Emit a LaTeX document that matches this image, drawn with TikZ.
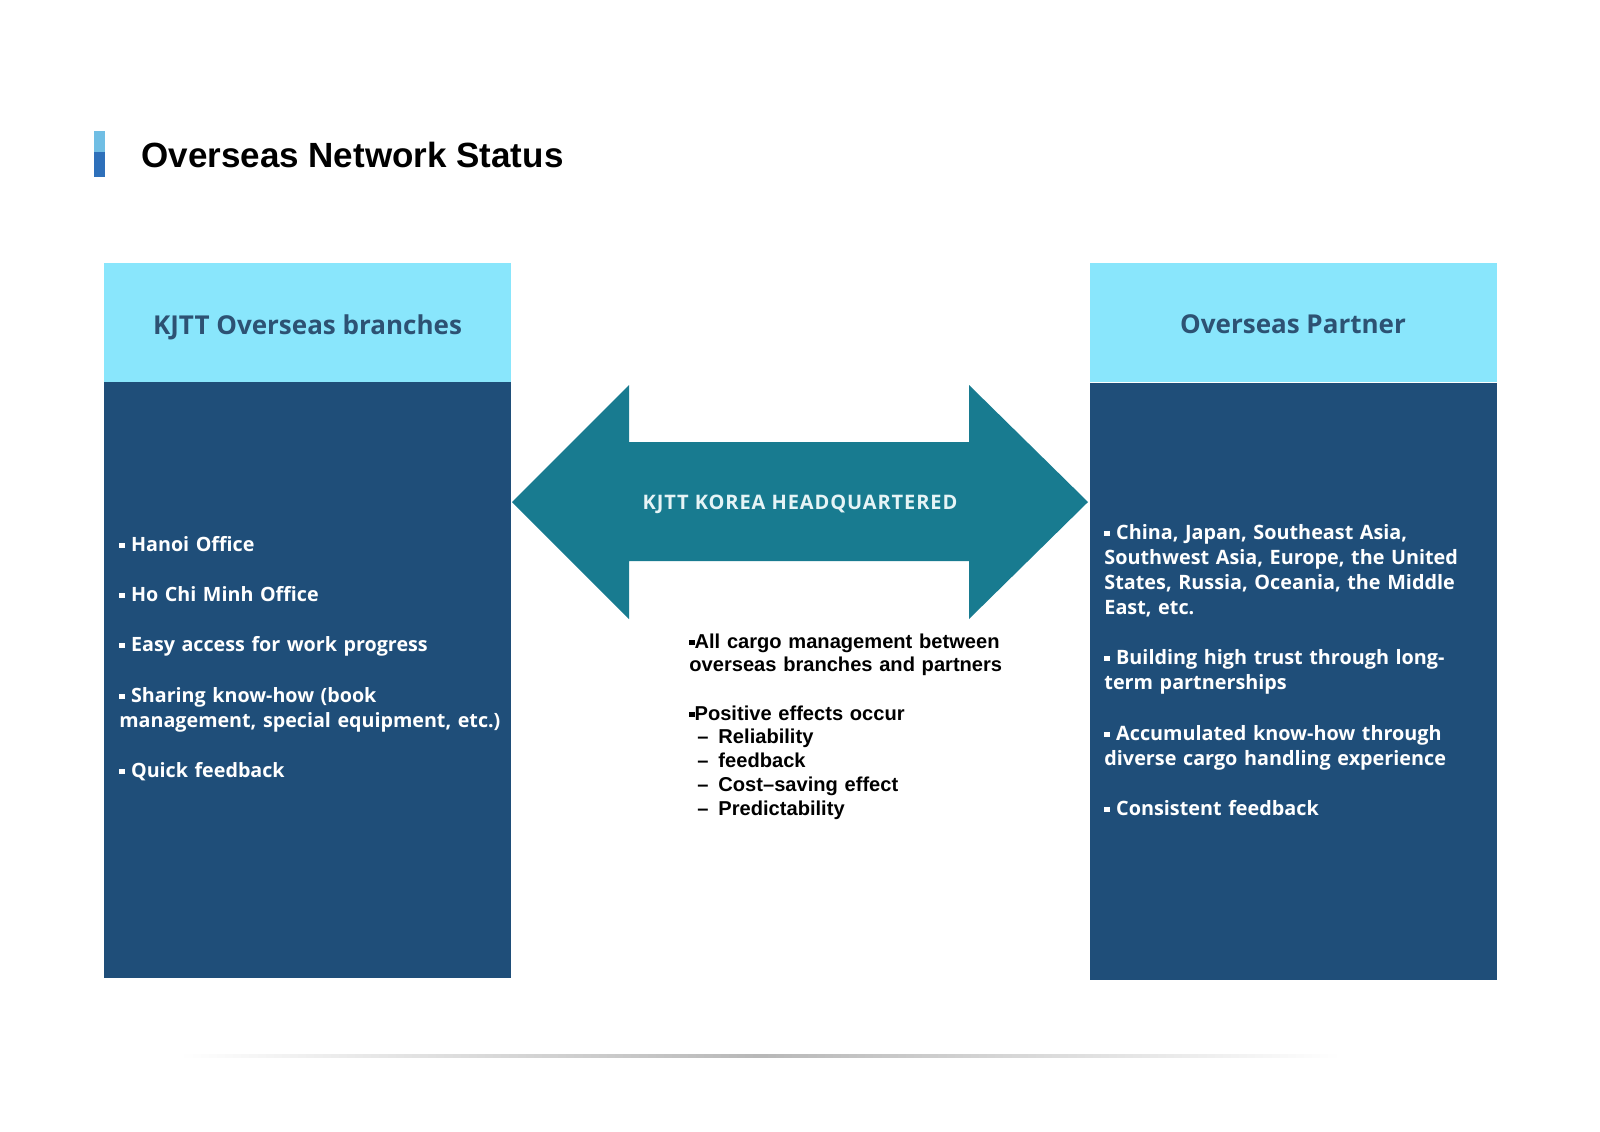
\documentclass[tikz,border=0pt]{standalone}
\usepackage{fontspec}
\setmainfont{Open Sans}
\newfontfamily\titlefont{Liberation Sans}
\newfontfamily\boxfont{Open Sans}
\newfontfamily\arrowfont[LetterSpace=4.5]{Open Sans}
\newfontfamily\centerfont{Liberation Sans}
\definecolor{bodyblue}{RGB}{31,78,121}
\definecolor{hdrcyan}{RGB}{137,230,252}
\definecolor{hdrtext}{RGB}{45,82,115}
\definecolor{arrowc}{RGB}{24,123,144}
\definecolor{arrowtext}{RGB}{230,244,246}
\definecolor{barlight}{RGB}{112,190,228}
\definecolor{bardark}{RGB}{46,112,186}
\newcommand{\sqb}{\raisebox{0.16em}{\rule{0.26em}{0.26em}}}
\newcommand{\dashitem}[1]{\hspace*{0.4em}–\hspace{0.49em}#1}
\tikzset{
  hdrbox/.style={rectangle, fill=hdrcyan, minimum width=203.5pt, minimum height=59.5pt, inner sep=0pt},
  hdrlabel/.style={inner sep=0pt, text=hdrtext, text height=0.72em, text depth=0pt,
    font=\boxfont\bfseries\fontsize{13pt}{15pt}\selectfont},
  bodybox/.style={rectangle, fill=bodyblue, minimum width=203.5pt, inner sep=0pt},
  btext/.style={anchor=base west, text width=260pt, align=left, inner sep=0pt, text=white,
    font=\boxfont\bfseries\fontsize{9.85pt}{12.5pt}\selectfont},
  ctext/.style={anchor=base west, text width=220pt, align=left, inner sep=0pt, text=black,
    font=\centerfont\bfseries\fontsize{10.05pt}{11.9pt}\selectfont},
  arrowlabel/.style={inner sep=0pt, text=arrowtext, text height=0.72em, text depth=0pt,
    font=\arrowfont\bfseries\fontsize{10pt}{12pt}\selectfont},
}
\begin{document}
\begin{tikzpicture}[x=0.5pt,y=-0.5pt]
\useasboundingbox (0,0) rectangle (1600,1131);
\fill[white] (0,0) rectangle (1600,1131);
% title
\fill[barlight] (94,131) rectangle (105,152);
\fill[bardark] (94,152) rectangle (105,177);
\node[anchor=base west, inner sep=0pt, font=\titlefont\bfseries\fontsize{17.5pt}{20pt}\selectfont] (title) at (141,167) {Overseas Network Status};
% left column
\node[hdrbox] (lh) at (307.5,322.5) {};
\node[hdrlabel] (lht) at (307.5,327) {KJTT Overseas branches};
\node[bodybox, minimum height=298pt] (lb) at (307.5,680) {};
% right column
\node[hdrbox] (rh) at (1293,322.5) {};
\node[hdrlabel] (rht) at (1293,326) {Overseas Partner};
\node[bodybox, minimum height=298.5pt] (rb) at (1293,681.5) {};
% double arrow
\fill[arrowc] (512,502) -- (629,385) -- (629,442) -- (969,442) -- (969,385) -- (1088,502)
  -- (969,619) -- (969,561) -- (629,561) -- (629,619) -- cycle;
\node[arrowlabel] (hq) at (800,502) {KJTT KOREA HEADQUARTERED};
% left bullets
\node[btext] (l1) at (119,551) {\sqb\ Hanoi Office};
\node[btext] (l2) at (119,601) {\sqb\ Ho Chi Minh Office};
\node[btext] (l3) at (119,651) {\sqb\ Easy access for work progress};
\node[btext] (l4) at (119,702) {\sqb\ Sharing know-how (book\\management, special equipment, etc.)};
\node[btext] (l5) at (119,777) {\sqb\ Quick feedback};
% right bullets
\node[btext, font=\boxfont\bfseries\fontsize{9.9pt}{12.5pt}\selectfont] (r1) at (1104,539) {\sqb\ China, Japan, Southeast Asia,\\Southwest Asia, Europe, the United\\States, Russia, Oceania, the Middle\\East, etc.};
\node[btext, font=\boxfont\bfseries\fontsize{9.9pt}{12.5pt}\selectfont] (r2) at (1104,664) {\sqb\ Building high trust through long-\\term partnerships};
\node[btext, font=\boxfont\bfseries\fontsize{9.9pt}{12.5pt}\selectfont] (r3) at (1104,740) {\sqb\ Accumulated know-how through\\diverse cargo handling experience};
\node[btext, font=\boxfont\bfseries\fontsize{9.9pt}{12.5pt}\selectfont] (r4) at (1104,815) {\sqb\ Consistent feedback};
% center text
\node[ctext] (c1) at (689,648) {\sqb All cargo management between\\overseas branches and partners};
\node[ctext] (c2) at (689,720) {\sqb Positive effects occur\\\dashitem{Reliability}\\\dashitem{feedback}\\\dashitem{Cost–saving effect}\\\dashitem{Predictability}};
% bottom line
\shade[left color=white, right color=white, middle color=black!28] (180,1054) rectangle (1340,1057.5);
\end{tikzpicture}
\end{document}
